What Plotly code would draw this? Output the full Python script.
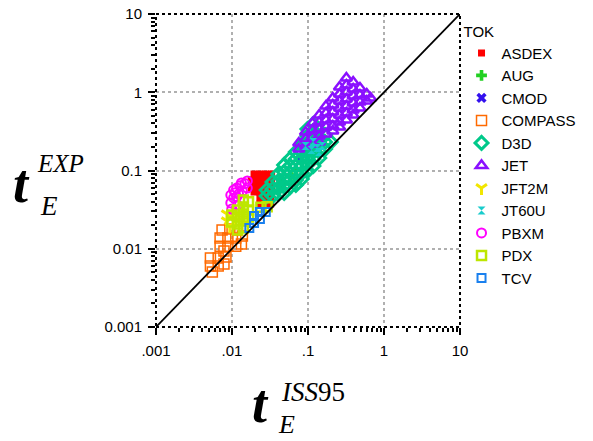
import plotly.graph_objects as go

# ---------------- data ----------------
asdex_x = [0.0195, 0.0233, 0.0278, 0.0332, 0.0195, 0.0233, 0.0278, 0.0332,
           0.0195, 0.0233, 0.0278, 0.0332, 0.0195, 0.0233, 0.0278, 0.0332,
           0.0233, 0.0278, 0.0322, 0.0233, 0.0278, 0.0322, 0.0179, 0.0179]
asdex_y = [0.0902, 0.0902, 0.0902, 0.0902, 0.0756, 0.0756, 0.0756, 0.0756,
           0.0634, 0.0634, 0.0634, 0.0634, 0.0531, 0.0531, 0.0531, 0.0531,
           0.0446, 0.0446, 0.0446, 0.0373, 0.0373, 0.0373, 0.0756, 0.0597]

aug_x = [0.0446, 0.0597, 0.0700]
aug_y = [0.0692, 0.0875, 0.1000]

cmod_x = [0.0800, 0.1000]
cmod_y = [0.1400, 0.1700]

compass_x = [0.00740, 0.00936, 0.0118, 0.00697, 0.00883, 0.0112, 0.0137, 0.00697,
             0.00883, 0.0112, 0.0133, 0.00784, 0.00520, 0.00658, 0.00832, 0.00520,
             0.00658, 0.00784, 0.00551]
compass_y = [0.0174, 0.0179, 0.0174, 0.0137, 0.0137, 0.0137, 0.0146, 0.0108,
             0.0108, 0.0108, 0.0115, 0.00936, 0.00762, 0.00762, 0.00785, 0.00603,
             0.00603, 0.00638, 0.00505]

d3d_x = [0.0286, 0.0286,
         0.0342, 0.0342, 0.0342,
         0.0408, 0.0408, 0.0408, 0.0408,
         0.0486, 0.0486, 0.0486, 0.0486, 0.0486,
         0.0580, 0.0580, 0.0580, 0.0580, 0.0580,
         0.0692, 0.0692, 0.0692, 0.0692, 0.0692, 0.0692,
         0.0826, 0.0826, 0.0826, 0.0826, 0.0826, 0.0826,
         0.0985, 0.0985, 0.0985, 0.0985, 0.0985, 0.0985, 0.0985,
         0.1176, 0.1176, 0.1176, 0.1176, 0.1176, 0.1176, 0.1176,
         0.1403, 0.1403, 0.1403, 0.1403, 0.1403,
         0.1674, 0.1674, 0.1674,
         0.1997]
d3d_y = [0.0563, 0.0472,
         0.0713, 0.0580, 0.0472,
         0.0902, 0.0734, 0.0597, 0.0501,
         0.1176, 0.0957, 0.0779, 0.0634, 0.0516,
         0.1403, 0.1142, 0.0929, 0.0756, 0.0615,
         0.1723, 0.1403, 0.1142, 0.0929, 0.0756, 0.0653,
         0.2120, 0.1723, 0.1403, 0.1142, 0.0929, 0.0779,
         0.339, 0.276, 0.225, 0.183, 0.1488, 0.1210, 0.0985,
         0.393, 0.320, 0.260, 0.212, 0.1723, 0.1403, 0.1142,
         0.329, 0.268, 0.218, 0.1775, 0.1445,
         0.284, 0.231, 0.188,
         0.231]

jet_x = [0.0756, 0.0756,
         0.0929, 0.0929, 0.0929,
         0.1142, 0.1142, 0.1142, 0.1142,
         0.1403, 0.1403, 0.1403, 0.1403, 0.1403,
         0.1723, 0.1723, 0.1723, 0.1723, 0.1723,
         0.2118, 0.2118, 0.2118, 0.2118, 0.2118, 0.2118,
         0.260, 0.260, 0.260, 0.260, 0.260, 0.260, 0.260,
         0.3197, 0.3197, 0.3197, 0.3197, 0.3197, 0.3197, 0.3197,
         0.3928, 0.3928, 0.3928, 0.3928, 0.3928, 0.3928,
         0.4828, 0.4828, 0.4828, 0.4828,
         0.5930, 0.5930,
         0.667]
jet_y = [0.225, 0.188,
         0.310, 0.253, 0.206,
         0.405, 0.329, 0.268, 0.218,
         0.512, 0.417, 0.339, 0.276, 0.231,
         0.667, 0.543, 0.442, 0.360, 0.293,
         0.844, 0.687, 0.559, 0.455, 0.370, 0.320,
         1.167, 0.950, 0.773, 0.629, 0.512, 0.417, 0.360,
         1.521, 1.238, 1.007, 0.820, 0.667, 0.543, 0.442,
         1.352, 1.100, 0.896, 0.729, 0.593, 0.512,
         1.133, 0.922, 0.751, 0.629,
         0.950, 0.773,
         0.844]

jft2m_x = [0.00857, 0.00857, 0.00936, 0.0105]
jft2m_y = [0.0278, 0.0226, 0.0195, 0.0247]

jt60u_x = [0.0929, 0.111, 0.132, 0.153, 0.117, 0.140]
jt60u_y = [0.206, 0.183, 0.194, 0.206, 0.231, 0.172]

pbxm_x = [0.00964, 0.00964, 0.00993, 0.0115, 0.0115, 0.0118, 0.0133, 0.0137, 0.0159, 0.0159, 0.0105,
          0.0105, 0.0122, 0.0128, 0.0148, 0.0110]
pbxm_y = [0.0486, 0.0385, 0.0322, 0.0597, 0.0459, 0.0362, 0.0692, 0.0547, 0.0735, 0.0597, 0.0563,
          0.0446, 0.0500, 0.0640, 0.0680, 0.0520]

pdx_x = [0.00993, 0.00993, 0.0118, 0.0118, 0.0118, 0.0118, 0.0141, 0.0141, 0.0141, 0.0141, 0.0141,
         0.0165, 0.0165, 0.0165, 0.0240, 0.0290]
pdx_y = [0.0270, 0.0220, 0.0313, 0.0255, 0.0207, 0.0174, 0.0420, 0.0342, 0.0278, 0.0226, 0.0184,
         0.0400, 0.0313, 0.0255, 0.0340, 0.0345]

tcv_x = [0.0169, 0.0195, 0.0195, 0.0233, 0.0233, 0.0278]
tcv_y = [0.0184, 0.0213, 0.0262, 0.0240, 0.0295, 0.0295]

identity = [0.001, 10]

x_tickvals = [0.001, 0.01, 0.1, 1, 10]
x_ticktext = [".001", ".01", ".1", "1", "10"]
y_tickvals = [0.001, 0.01, 0.1, 1, 10]
y_ticktext = ["0.001", "0.01", "0.1", "1", "10"]

# ---------------- series styling ----------------
series = [
    ("ASDEX", asdex_x, asdex_y, "square", "#ff0000", 7, 0),
    ("AUG", aug_x, aug_y, "cross", "#22d022", 9, 0),
    ("CMOD", cmod_x, cmod_y, "x", "#3311ee", 9, 0),
    ("COMPASS", compass_x, compass_y, "square-open", "#ff6a00", 10, 1.5),
    ("D3D", d3d_x, d3d_y, "diamond-open", "#00c98a", 10, 3),
    ("JET", jet_x, jet_y, "triangle-up-open", "#8a10ff", 10, 2.5),
    ("JFT2M", jft2m_x, jft2m_y, "y-down-open", "#f2e600", 9, 3),
    ("JT60U", jt60u_x, jt60u_y, "hourglass", "#18cccc", 8, 0),
    ("PBXM", pbxm_x, pbxm_y, "circle-open", "#ff00ff", 9, 2),
    ("PDX", pdx_x, pdx_y, "square-open", "#bde600", 9, 2.5),
    ("TCV", tcv_x, tcv_y, "square-open", "#1a80ee", 8, 2),
]

fig = go.Figure()
for name, xs, ys, sym, col, size, lw in series:
    marker = dict(symbol=sym, color=col, size=size)
    if lw:
        marker["line"] = dict(color=col, width=lw)
    fig.add_trace(go.Scatter(x=xs, y=ys, mode="markers", name=name, marker=marker))

fig.add_trace(go.Scatter(x=identity, y=identity, mode="lines",
                         line=dict(color="black", width=1.8), showlegend=False,
                         hoverinfo="skip"))

minor_vals = [m * d for d in [0.001, 0.01, 0.1, 1] for m in range(2, 10)]

tickfont = dict(family="Arial, Liberation Sans, sans-serif", size=15, color="black")
axis_common = dict(
    type="log", ticks="outside", ticklen=7, tickwidth=1.5, tickcolor="black",
    showgrid=True, gridcolor="#b0b0b0", griddash="dot", gridwidth=2,
    zeroline=False, showline=False, automargin=False, tickfont=tickfont,
    minor=dict(tickmode="array", tickvals=minor_vals, ticks="outside", ticklen=4,
               tickwidth=1.5, tickcolor="black", showgrid=False),
    ticklabelstandoff=3,
)
fig.update_xaxes(range=[-3, 1], tickmode="array", tickvals=x_tickvals, ticktext=x_ticktext, **axis_common)
fig.update_yaxes(range=[-3, 1], tickmode="array", tickvals=y_tickvals, ticktext=y_ticktext, **axis_common)

# dotted frame around plot area
fig.add_shape(type="rect", xref="paper", yref="paper", x0=0, y0=0, x1=1, y1=1,
              line=dict(color="black", width=2, dash="dot"), layer="above")

serif = "Liberation Serif, Times New Roman, serif"
ann = [
    # y-axis title
    dict(text="<b><i>t</i></b>", x=-0.444, y=0.457, xanchor="center", yanchor="middle", size=54),
    dict(text="<i>EXP</i>", x=-0.399, y=0.521, xanchor="left", yanchor="middle", size=25),
    dict(text="<i>E</i>", x=-0.387, y=0.387, xanchor="left", yanchor="middle", size=27),
    # x-axis title
    dict(text="<b><i>t</i></b>", x=0.345, y=-0.246, xanchor="center", yanchor="middle", size=54),
    dict(text="<i>ISS</i>95", x=0.403, y=-0.209, xanchor="left", yanchor="middle", size=27),
    dict(text="<i>E</i>", x=0.396, y=-0.313, xanchor="left", yanchor="middle", size=26),
]
for a in ann:
    fig.add_annotation(text=a["text"], x=a["x"], y=a["y"], xref="paper", yref="paper",
                       xanchor=a["xanchor"], yanchor=a["yanchor"], showarrow=False,
                       font=dict(family=serif, size=a["size"], color="black"))

fig.update_layout(
    width=593, height=441, autosize=False,
    margin=dict(l=156, r=124, t=14, b=114, pad=0),
    paper_bgcolor="white", plot_bgcolor="white",
    showlegend=True,
    legend=dict(x=1.005, y=0.99, xanchor="left", yanchor="top",
                font=dict(family="Arial, Liberation Sans, sans-serif", size=15, color="black"),
                title=dict(text="TOK", font=dict(family="Arial, Liberation Sans, sans-serif", size=15)),
                bgcolor="rgba(0,0,0,0)", borderwidth=0, tracegroupgap=0),
)

fig.write_html("out.html", config={"displayModeBar": False},
               post_script="document.body.style.margin='0';")
